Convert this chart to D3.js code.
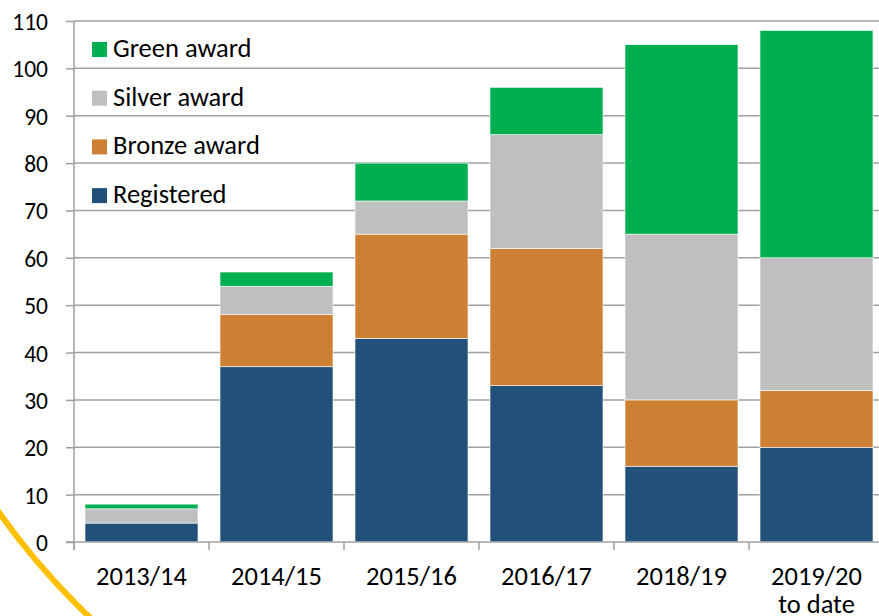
<!DOCTYPE html>
<html>
<head>
<meta charset="utf-8">
<script src="https://cdn.jsdelivr.net/npm/d3@7"></script>
<style>
  body { margin: 0; background: #fff; }
  svg text { font-family: Carlito, Calibri, Lato, sans-serif; fill: #000; }
</style>
</head>
<body>
<div id="chart"></div>
<script>
const years = ['2013/14', '2014/15', '2015/16', '2016/17', '2018/19', '2019/20|to date']
const registered = [4, 37, 43, 33, 16, 20]
const bronze = [0, 11, 22, 29, 14, 12]
const silver = [3, 6, 7, 24, 35, 28]
const green = [1, 3, 8, 10, 40, 48]
const yTicks = [0, 10, 20, 30, 40, 50, 60, 70, 80, 90, 100, 110]

const seriesKeys = ['registered', 'bronze', 'silver', 'green']
const seriesNames = { registered: 'Registered', bronze: 'Bronze award', silver: 'Silver award', green: 'Green award' }
const colors = { registered: '#215078', bronze: '#CD8033', silver: '#BFBFBF', green: '#00B050' }

const width = 879, height = 616
const plot = { left: 74, right: 884, top: 21, bottom: 542 }

const rows = years.map((y, i) => ({
    year: y,
    registered: registered[i],
    bronze: bronze[i],
    silver: silver[i],
    green: green[i]
}))

const svg = d3.select('#chart').append('svg')
    .attr('width', width)
    .attr('height', height)

// decorative arc in the corner
svg.append('circle')
    .attr('cx', 590).attr('cy', 94).attr('r', 724)
    .attr('fill', 'none')
    .attr('stroke', '#FFC000')
    .attr('stroke-width', 6)

const x = d3.scaleBand()
    .domain(years)
    .range([plot.left, plot.right])
    .paddingInner(0.163)
    .paddingOuter(0.0815)

const y = d3.scaleLinear()
    .domain([0, 110])
    .range([plot.bottom, plot.top])

// gridlines + y axis
const yAxis = svg.append('g')
    .attr('transform', `translate(${plot.left},0)`)
    .call(d3.axisLeft(y).tickValues(yTicks).tickSize(8).tickPadding(18))
yAxis.select('.domain').remove()
yAxis.selectAll('.tick line').attr('stroke', '#a0a0a0').attr('stroke-width', 1.5)
yAxis.selectAll('.tick text').style('font-size', '23.5px').attr('dy', '0.36em')

svg.append('g')
    .selectAll('line')
    .data(yTicks.filter(d => d > 0))
    .join('line')
    .attr('x1', plot.left).attr('x2', width)
    .attr('y1', d => y(d)).attr('y2', d => y(d))
    .attr('stroke', '#a0a0a0')
    .attr('stroke-width', 1.5)

// stacked bars
const stack = d3.stack().keys(seriesKeys)(rows)
svg.append('g')
    .selectAll('g')
    .data(stack)
    .join('g')
    .attr('fill', d => colors[d.key])
    .selectAll('rect')
    .data(d => d)
    .join('rect')
    .attr('x', d => x(d.data.year))
    .attr('width', x.bandwidth())
    .attr('y', d => y(d[1]))
    .attr('height', d => y(d[0]) - y(d[1]))
    .attr('stroke', '#fff')
    .attr('stroke-width', 0.6)

// axis lines
svg.append('line')
    .attr('x1', plot.left).attr('x2', plot.left)
    .attr('y1', plot.top).attr('y2', plot.bottom + 8)
    .attr('stroke', '#a0a0a0').attr('stroke-width', 1.5)
svg.append('line')
    .attr('x1', plot.left - 8).attr('x2', width)
    .attr('y1', plot.bottom).attr('y2', plot.bottom)
    .attr('stroke', '#a0a0a0').attr('stroke-width', 1.5)

// category boundary ticks
const step = x.step()
svg.append('g')
    .selectAll('line')
    .data(years)
    .join('line')
    .attr('x1', (d, i) => plot.left + i * step)
    .attr('x2', (d, i) => plot.left + i * step)
    .attr('y1', plot.bottom).attr('y2', plot.bottom + 8)
    .attr('stroke', '#a0a0a0').attr('stroke-width', 1.5)

// x labels
const xl = svg.append('g')
    .selectAll('text')
    .data(years)
    .join('text')
    .attr('text-anchor', 'middle')
    .style('font-size', '26.5px')
xl.each(function(d){
    const parts = d.split('|')
    const cx = x(d) + x.bandwidth() / 2
    parts.forEach((p, k) => {
        d3.select(this).append('tspan')
            .attr('x', cx)
            .attr('y', 585 + k * 28)
            .text(p)
    })
})

// legend
const legendKeys = ['green', 'silver', 'bronze', 'registered']
const lg = svg.append('g')
    .selectAll('g')
    .data(legendKeys)
    .join('g')
    .attr('transform', (d, i) => `translate(92, ${42 + i * 48.7})`)
lg.append('rect')
    .attr('width', 15).attr('height', 15)
    .attr('fill', d => colors[d])
lg.append('text')
    .attr('x', 21)
    .attr('y', 15)
    .style('font-size', '26.5px')
    .text(d => seriesNames[d])
</script>
</body>
</html>
